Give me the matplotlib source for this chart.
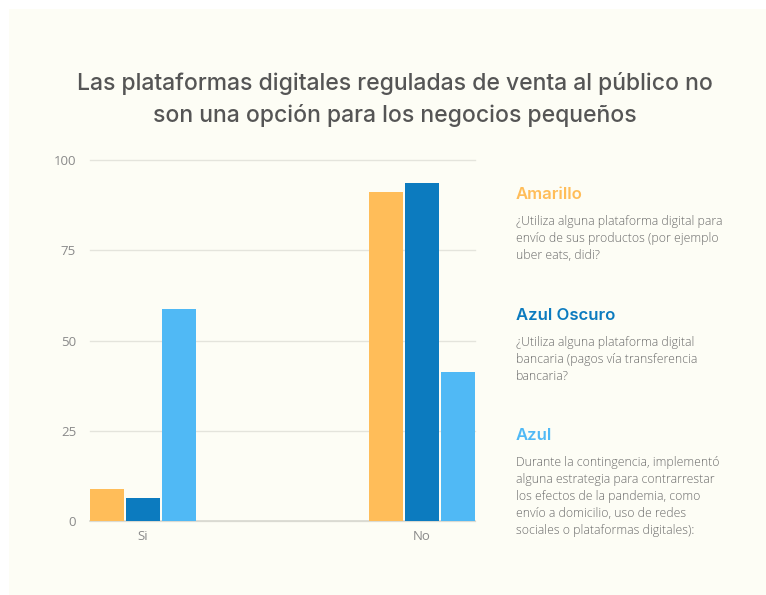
import matplotlib
matplotlib.use("Agg")
import matplotlib.pyplot as plt
from matplotlib.patches import Rectangle

categories = ["Si", "No"]
amarillo = [8.7, 91.3]
azul_oscuro = [6.4, 93.6]
azul = [58.8, 41.2]
series = [amarillo, azul_oscuro, azul]
colors = ["#FFBD59", "#0C7BBF", "#50B9F5"]
yticks = [0, 25, 50, 75, 100]

title = "Las plataformas digitales reguladas de venta al público no\nson una opción para los negocios pequeños"
legend_heads = ["Amarillo", "Azul Oscuro", "Azul"]
legend_bodies = [
    "¿Utiliza alguna plataforma digital para\nenvío de sus productos (por ejemplo\nuber eats, didi?",
    "¿Utiliza alguna plataforma digital\nbancaria (pagos vía transferencia\nbancaria?",
    "Durante la contingencia, implementó\nalguna estrategia para contrarrestar\nlos efectos de la pandemia, como\nenvío a domicilio, uso de redes\nsociales o plataformas digitales):",
]

W, H = 766, 595
fig = plt.figure(figsize=(W / 100, H / 100), dpi=100)
fig.patch.set_facecolor("white")
bg = "#FDFDF5"
fig.patches.append(Rectangle((9 / W, 0), 1 - 9 / W, 1 - 9 / H, transform=fig.transFigure,
                             facecolor=bg, edgecolor="none", zorder=-10))

fig.text(394.5 / W, 1 - 99.5 / H, title, ha="center", va="center", fontsize=16.5,
         family="Inter", color="#555555", linespacing=1.45, fontweight="medium")

ax = fig.add_axes([90 / W, 1 - 520.7 / H, 385 / W, 360.4 / H])
ax.set_facecolor("none")
slot = 36 / 279
bw = 34 / 279
for i, (vals, c) in enumerate(zip(series, colors)):
    xs = [k + (i - 1) * slot for k in range(len(categories))]
    ax.bar(xs, vals, width=bw, color=c, zorder=3)

ax.set_xlim(-0.19, 1.19)
ax.set_ylim(0, 100)
ax.set_yticks(yticks)
ax.set_yticklabels([str(t) for t in yticks])
ax.set_xticks(range(len(categories)))
ax.set_xticklabels(categories)
for s in ["top", "right", "left"]:
    ax.spines[s].set_visible(False)
ax.spines["bottom"].set_color("#d8d8d0")
ax.spines["bottom"].set_linewidth(1.2)
ax.grid(axis="y", color="#e4e4dc", linewidth=1, zorder=0)
for gl in ax.get_ygridlines():
    gl.set_clip_on(False)
ax.tick_params(axis="both", length=0, labelsize=9.5, labelcolor="#8a8a8a", pad=10)
ax.tick_params(axis="x", pad=7)
for lab in ax.get_xticklabels() + ax.get_yticklabels():
    lab.set_family("Open Sans")

head_y = [195, 316, 436]
for head, body, c, hy in zip(legend_heads, legend_bodies, colors, head_y):
    fig.text(516 / W, 1 - hy / H, head, ha="left", va="center", fontsize=12,
             family="Inter", fontweight="semibold", color=c)
    fig.text(516 / W, 1 - (hy + 20) / H, body, ha="left", va="top", fontsize=8.8,
             family="Open Sans", fontweight="light", color="#6a6a6a", linespacing=1.4)

fig.savefig("out.png", dpi=100, facecolor=fig.get_facecolor())
